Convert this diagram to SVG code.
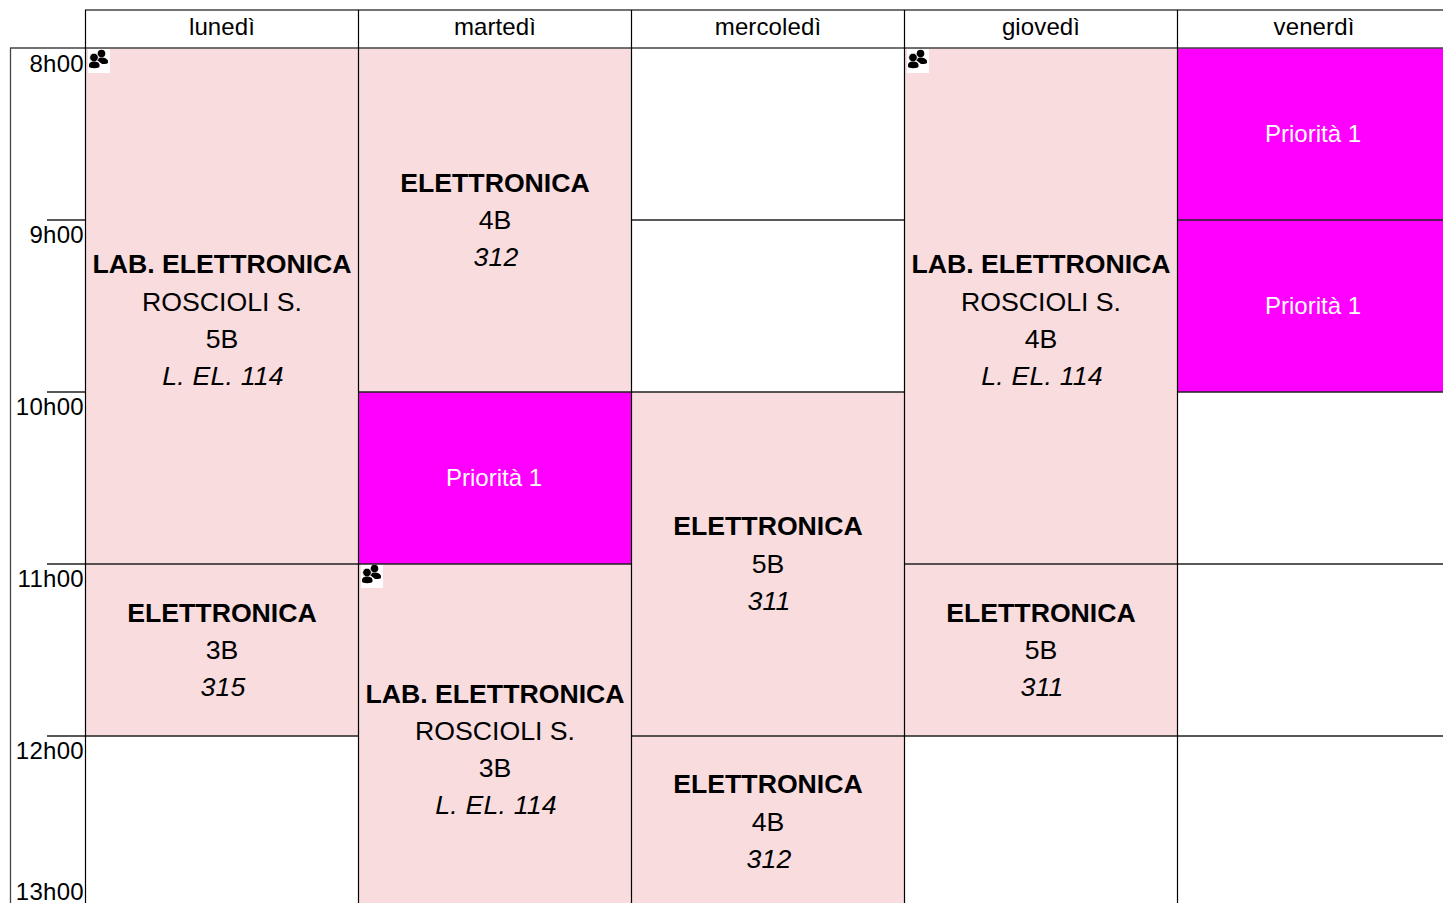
<svg xmlns="http://www.w3.org/2000/svg" width="1443" height="903" viewBox="0 0 1443 903">
<style>
text{font-family:"Liberation Sans",Arial,sans-serif;fill:#000;text-anchor:middle;text-rendering:optimizeSpeed}
.d{font-size:24px;letter-spacing:.12px}
.h{font-size:24px;text-anchor:end;letter-spacing:.3px}
.t{font-size:26.670px;font-weight:bold}
.n{font-size:26.670px}
.r{font-size:26.670px;font-style:italic;letter-spacing:.2px}
.p{font-size:24px;fill:#fff}
.c{fill:#f8dcde}
.m{fill:#ff00ff}
.l{stroke:#222;stroke-width:1.300;fill:none}
.v{stroke:#000;stroke-width:1.200;fill:none}
.g{stroke:#444;stroke-width:1.300;fill:none}
</style>
<defs>
<g id="people">
<rect width="22" height="24" fill="#fff"/>
<circle cx="13.500" cy="4.500" r="3.800" fill="#000"/>
<path d="M9 11c1-2 3-2.500 4.500-2.500 3 0 6.500 1.500 6.500 4v1c0 1-2 1.500-6 1.500z" fill="#000"/>
<circle cx="6" cy="8.500" r="4.300" fill="#000" stroke="#fff" stroke-width=".8"/>
<path d="M1 16c0-2.500 2.500-3.500 5-3.500s5.500 1 5.500 3.500v1.500c0 1-2.500 1.700-5.300 1.700S1 18.500 1 17.500z" fill="#000"/>
</g>
</defs>
<rect width="1443" height="903" fill="#fff"/>
<g id="cell-lun-lab"><rect class="c" x="86" y="48" width="272" height="516"/><use href="#people" x="88" y="49"/>
<text class="t" x="222" y="273">LAB. ELETTRONICA</text><text class="n" x="222" y="311">ROSCIOLI S.</text><text class="n" x="222" y="348">5B</text><text class="r" x="223" y="385">L. EL. 114</text></g>
<g id="cell-lun-el"><rect class="c" x="86" y="564" width="272" height="172"/>
<text class="t" x="222" y="622">ELETTRONICA</text><text class="n" x="222" y="659">3B</text><text class="r" x="223" y="696">315</text></g>
<g id="cell-mar-el"><rect class="c" x="359" y="48" width="272" height="344"/>
<text class="t" x="495" y="192">ELETTRONICA</text><text class="n" x="495" y="229">4B</text><text class="r" x="496" y="266">312</text></g>
<g id="cell-mar-p"><rect class="m" x="359" y="392" width="272" height="172"/><text class="p" x="494" y="486">Priorità 1</text></g>
<g id="cell-mar-lab"><rect class="c" x="359" y="564" width="272" height="339"/><use href="#people" x="361" y="564"/>
<text class="t" x="495" y="703">LAB. ELETTRONICA</text><text class="n" x="495" y="740">ROSCIOLI S.</text><text class="n" x="495" y="777">3B</text><text class="r" x="496" y="814">L. EL. 114</text></g>
<g id="cell-mer-el1"><rect class="c" x="632" y="392" width="272" height="344"/>
<text class="t" x="768" y="535">ELETTRONICA</text><text class="n" x="768" y="573">5B</text><text class="r" x="769" y="610">311</text></g>
<g id="cell-mer-el2"><rect class="c" x="632" y="736" width="272" height="167"/>
<text class="t" x="768" y="793">ELETTRONICA</text><text class="n" x="768" y="831">4B</text><text class="r" x="769" y="868">312</text></g>
<g id="cell-gio-lab"><rect class="c" x="905" y="48" width="272" height="516"/><use href="#people" x="907" y="49"/>
<text class="t" x="1041" y="273">LAB. ELETTRONICA</text><text class="n" x="1041" y="311">ROSCIOLI S.</text><text class="n" x="1041" y="348">4B</text><text class="r" x="1042" y="385">L. EL. 114</text></g>
<g id="cell-gio-el"><rect class="c" x="905" y="564" width="272" height="172"/>
<text class="t" x="1041" y="622">ELETTRONICA</text><text class="n" x="1041" y="659">5B</text><text class="r" x="1042" y="696">311</text></g>
<g id="cell-ven-p1"><rect class="m" x="1178" y="48" width="265" height="172"/><text class="p" x="1313" y="142">Priorità 1</text></g>
<g id="cell-ven-p2"><rect class="m" x="1178" y="220" width="265" height="172"/><text class="p" x="1313" y="314">Priorità 1</text></g>
<g id="grid">
<path class="g" d="M85 10H1443M10 48H1443M10.500 48V903"/>
<path class="l" d="M47 220H86M47 392H86M47 564H86M47 736H86M632 220H904M359 392H904M86 564H358M359 564H631M905 564H1177M1178 220H1443M1178 392H1443M1178 564H1443M86 736H358M632 736H904M905 736H1177M1178 736H1443"/>
<path class="v" d="M85.500 10V903M358.500 10V903M631.500 10V903M904.500 10V903M1177.500 10V903"/>
</g>
<g id="days">
<text class="d" x="222" y="35">lunedì</text><text class="d" x="495" y="35">martedì</text><text class="d" x="768" y="35">mercoledì</text><text class="d" x="1041" y="35">giovedì</text><text class="d" x="1314" y="35">venerdì</text>
</g>
<g id="hours">
<text class="h" x="84" y="72">8h00</text><text class="h" x="84" y="243">9h00</text><text class="h" x="84" y="415">10h00</text><text class="h" x="84" y="587">11h00</text><text class="h" x="84" y="759">12h00</text><text class="h" x="84" y="900">13h00</text>
</g>
</svg>
